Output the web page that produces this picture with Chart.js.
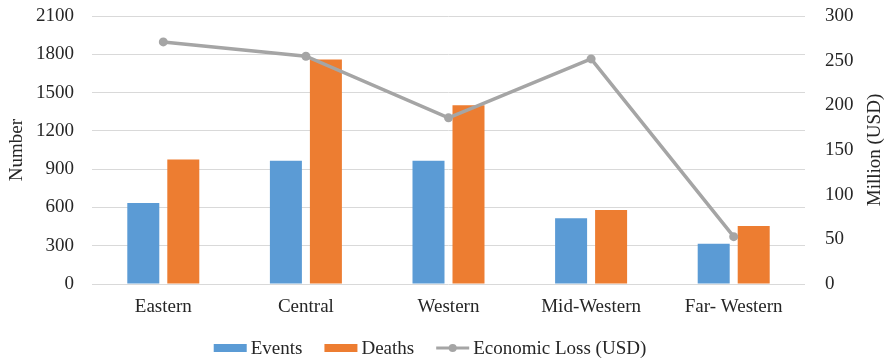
<!DOCTYPE html>
<html>
<head>
<meta charset="utf-8">
<script src="https://cdn.jsdelivr.net/npm/chart.js@4/dist/chart.umd.min.js"></script>
<style>
  html, body { margin: 0; padding: 0; background: #ffffff; }
  #wrap { width: 888px; height: 361px; position: relative; }
</style>
</head>
<body>
<div id="wrap"><canvas id="c" width="888" height="361"></canvas></div>
<script>
// Regions of the country
const categories = ['Eastern', 'Central', 'Western', 'Mid-Western', 'Far- Western'];
// Number of events per region
const events = [635, 965, 965, 515, 315];
// Number of deaths per region
const deaths = [975, 1760, 1400, 580, 455];
// Economic loss, million USD
const economicLoss = [271, 255, 186, 252, 53];

const seriesNames = ['Events', 'Deaths', 'Economic Loss (USD)'];
const leftTicks = { min: 0, max: 2100, step: 300 };
const rightTicks = { min: 0, max: 300, step: 50 };
const leftTitle = 'Number';
const rightTitle = 'Million (USD)';

const FONT = "'Liberation Serif', 'Times New Roman', serif";
const FS = 19;
const TEXT = '#262626';
const BLUE = '#5b9bd5';
const ORANGE = '#ed7d31';
const GRAY = '#a5a5a5';

// Legend under the axis labels (boxes for bars, line+marker for the line),
// plus the right-hand axis title, read bottom-to-top like the left one
const extras = {
  id: 'extras',
  afterDraw(chart) {
    const ctx = chart.ctx;
    const area = chart.chartArea;
    ctx.save();
    ctx.font = FS + 'px ' + FONT;
    ctx.textBaseline = 'middle';
    ctx.fillStyle = TEXT;

    // right axis title
    ctx.save();
    ctx.translate(875, (area.top + area.bottom) / 2);
    ctx.rotate(-Math.PI / 2);
    ctx.textAlign = 'center';
    ctx.fillText(rightTitle, 0, 0);
    ctx.restore();

    // legend
    const y = 348;
    const symW = 33, symGap = 4, itemGap = 22;
    const items = chart.data.datasets.slice().sort((a, b) => a.legendIndex - b.legendIndex);
    let total = 0;
    items.forEach((d, i) => {
      total += symW + symGap + ctx.measureText(d.label).width + (i < items.length - 1 ? itemGap : 0);
    });
    let x = 430 - total / 2;
    items.forEach(d => {
      if (d.type === 'line') {
        ctx.strokeStyle = d.borderColor;
        ctx.lineWidth = 3;
        ctx.beginPath();
        ctx.moveTo(x, y);
        ctx.lineTo(x + symW, y);
        ctx.stroke();
        ctx.fillStyle = d.borderColor;
        ctx.beginPath();
        ctx.arc(x + symW / 2, y, 4, 0, Math.PI * 2);
        ctx.fill();
      } else {
        ctx.fillStyle = d.backgroundColor;
        ctx.fillRect(x, y - 4, symW, 8);
      }
      x += symW + symGap;
      ctx.fillStyle = TEXT;
      ctx.textAlign = 'left';
      ctx.fillText(d.label, x, y + 1);
      x += ctx.measureText(d.label).width + itemGap;
    });
    ctx.restore();
  }
};

const plainNumber = v => String(v);

// keep the vertical scales from reserving extra room above the plot
function fixVertical(width) {
  return scale => {
    scale.width = width;
    scale.paddingTop = 0;
    scale.paddingBottom = 0;
  };
}

new Chart(document.getElementById('c'), {
  data: {
    labels: categories,
    datasets: [
      {
        type: 'line',
        label: seriesNames[2],
        legendIndex: 2,
        data: economicLoss,
        yAxisID: 'y2',
        borderColor: GRAY,
        backgroundColor: GRAY,
        borderWidth: 3.5,
        pointRadius: 4.5,
        pointBackgroundColor: GRAY,
        pointBorderWidth: 0,
        tension: 0,
        order: 0
      },
      {
        type: 'bar',
        label: seriesNames[0],
        legendIndex: 0,
        data: events,
        yAxisID: 'y',
        backgroundColor: BLUE,
        categoryPercentage: 0.561,
        barPercentage: 0.8,
        order: 1
      },
      {
        type: 'bar',
        label: seriesNames[1],
        legendIndex: 1,
        data: deaths,
        yAxisID: 'y',
        backgroundColor: ORANGE,
        categoryPercentage: 0.561,
        barPercentage: 0.8,
        order: 2
      }
    ]
  },
  options: {
    responsive: false,
    animation: false,
    devicePixelRatio: 1,
    layout: { padding: { top: 16, left: 0, right: 0, bottom: 0 } },
    plugins: {
      legend: { display: false },
      tooltip: { enabled: false }
    },
    scales: {
      x: {
        grid: { display: false, drawTicks: false },
        border: { display: false },
        ticks: { color: TEXT, font: { family: FONT, size: FS }, padding: 12, maxRotation: 0 },
        afterFit(scale) { scale.height = 77; scale.paddingLeft = 0; scale.paddingRight = 0; }
      },
      y: {
        position: 'left',
        min: leftTicks.min,
        max: leftTicks.max,
        ticks: { stepSize: leftTicks.step, color: TEXT, font: { family: FONT, size: FS }, padding: 18, callback: plainNumber },
        grid: { color: '#d9d9d9', lineWidth: 1, drawTicks: false },
        border: { display: false },
        title: { display: true, text: leftTitle, color: TEXT, font: { family: FONT, size: FS }, padding: { top: 6, bottom: 0 } },
        afterFit: fixVertical(92)
      },
      y2: {
        position: 'right',
        min: rightTicks.min,
        max: rightTicks.max,
        ticks: { stepSize: rightTicks.step, color: TEXT, font: { family: FONT, size: FS }, padding: 20, callback: plainNumber },
        grid: { display: false, drawTicks: false },
        border: { display: false },
        afterFit: fixVertical(83)
      }
    }
  },
  plugins: [extras]
});
</script>
</body>
</html>
